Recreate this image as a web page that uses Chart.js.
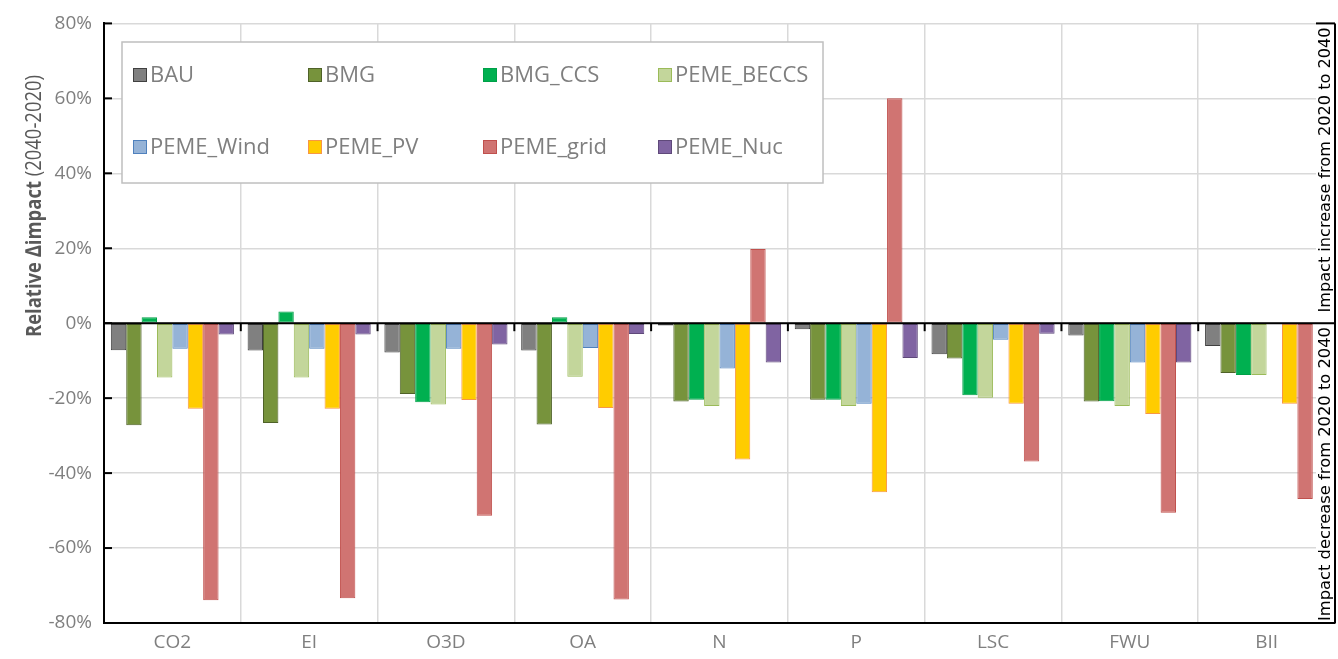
<!DOCTYPE html>
<html>
<head>
<meta charset="utf-8">
<script src="https://cdn.jsdelivr.net/npm/chart.js@4.4.0/dist/chart.umd.min.js"></script>
<style>
  html, body { margin: 0; padding: 0; background: #fff; }
  #wrap { width: 1338px; height: 659px; }
</style>
</head>
<body>
<div id="wrap"><canvas id="impactChart" width="1338" height="659"></canvas></div>
<script>
// categories (impact indicators)
const categories = ['CO2', 'EI', 'O3D', 'OA', 'N', 'P', 'LSC', 'FWU', 'BII'];

// relative change 2040 vs 2020, in %
const bau       = [-7.2, -7.3, -7.8, -7.3, -0.6, -1.6, -8.3, -3.3, -6.1];
const bmg       = [-27.2, -26.6, -18.9, -27.0, -20.9, -20.4, -9.4, -20.9, -13.3];
const bmgCcs    = [1.6, 3.1, -21.1, 1.6, -20.4, -20.4, -19.2, -20.8, -13.8];
const pemeBeccs = [-14.5, -14.5, -21.7, -14.3, -22.1, -22.1, -19.9, -22.1, -13.8];
const pemeWind  = [-6.8, -6.8, -6.8, -6.6, -12.1, -21.5, -4.4, -10.5, null];
const pemePv    = [-22.8, -22.8, -20.5, -22.6, -36.4, -45.1, -21.5, -24.2, -21.5];
const pemeGrid  = [-73.9, -73.4, -51.4, -73.7, 19.8, 60, -36.9, -50.6, -46.9];
const pemeNuc   = [-3.0, -3.0, -5.7, -2.9, -10.5, -9.3, -2.8, -10.5, null];

const yTicks = [-80, -60, -40, -20, 0, 20, 40, 60, 80];

const series = [
    { label: 'BAU',        data: bau,       fill: '#808080', line: '#404040' },
    { label: 'BMG',        data: bmg,       fill: '#77933c', line: '#4f6228' },
    { label: 'BMG_CCS',    data: bmgCcs,    fill: '#00b050', line: '#00a048' },
    { label: 'PEME_BECCS', data: pemeBeccs, fill: '#c3d69b', line: '#9bbb59' },
    { label: 'PEME_Wind',  data: pemeWind,  fill: '#95b3d7', line: '#4f81bd' },
    { label: 'PEME_PV',    data: pemePv,    fill: '#ffcc00', line: '#f79646' },
    { label: 'PEME_grid',  data: pemeGrid,  fill: '#d07472', line: '#c0504d' },
    { label: 'PEME_Nuc',   data: pemeNuc,   fill: '#8064a2', line: '#5f497a' }
];

const FONT = '"Open Sans", sans-serif';

// vertical text, fitted to a given length
function verticalText(ctx, text, cx, cy, len) {
    const w = ctx.measureText(text).width;
    ctx.save();
    ctx.translate(cx, cy);
    ctx.rotate(-Math.PI / 2);
    ctx.scale(len / w, 1);
    ctx.fillText(text, 0, 0);
    ctx.restore();
}

// extra drawing: zero line, inner ticks, right notes, legend box, y title
const decorations = {
    id: 'decorations',
    afterDatasetsDraw(chart) {
        const { ctx, chartArea: area, scales: { x, y } } = chart;
        const y0 = y.getPixelForValue(0);
        ctx.save();

        // right side note boxes
        ctx.fillStyle = '#fff';
        ctx.fillRect(area.right - 19, area.top + 1, 18, y0 - area.top - 2);
        ctx.fillRect(area.right - 19, y0 + 1, 18, area.bottom - y0 - 2);

        ctx.strokeStyle = '#000';
        ctx.lineWidth = 2;
        // zero line
        ctx.beginPath();
        ctx.moveTo(area.left, y0);
        ctx.lineTo(area.right, y0);
        ctx.stroke();
        // right border
        ctx.beginPath();
        ctx.moveTo(area.right, area.top);
        ctx.lineTo(area.right, area.bottom);
        ctx.stroke();
        // top edge above the notes
        ctx.beginPath();
        ctx.moveTo(area.right - 19, area.top);
        ctx.lineTo(area.right, area.top);
        ctx.stroke();
        // category ticks below the zero line
        for (let i = 1; i < categories.length; i++) {
            const bx = (x.getPixelForValue(i - 1) + x.getPixelForValue(i)) / 2;
            ctx.beginPath();
            ctx.moveTo(bx, y0);
            ctx.lineTo(bx, y0 + 8);
            ctx.stroke();
        }
        // value ticks inside the plot
        yTicks.forEach(v => {
            const ty = y.getPixelForValue(v);
            ctx.beginPath();
            ctx.moveTo(area.left, ty);
            ctx.lineTo(area.left + 8, ty);
            ctx.stroke();
        });

        // notes
        ctx.fillStyle = '#000';
        ctx.font = '15px "DejaVu Sans", Verdana, sans-serif';
        ctx.textAlign = 'center';
        ctx.textBaseline = 'middle';
        const nx = area.right - 9;
        verticalText(ctx, 'Impact increase from 2020 to 2040', nx, 170, 285);
        verticalText(ctx, 'Impact decrease from 2020 to 2040', nx, 474, 294);

        // legend box
        const lx = 122, ly = 42, lw = 701, lh = 141;
        ctx.fillStyle = '#fff';
        ctx.fillRect(lx, ly, lw, lh);
        ctx.strokeStyle = '#bfbfbf';
        ctx.lineWidth = 1.5;
        ctx.strokeRect(lx, ly, lw, lh);
        ctx.font = '22px ' + FONT;
        ctx.textAlign = 'left';
        series.forEach((s, i) => {
            const col = i % 4, row = Math.floor(i / 4);
            const sx = 133 + col * 175, sy = 75 + row * 72;
            ctx.fillStyle = s.fill;
            ctx.fillRect(sx, sy - 7, 14, 14);
            ctx.strokeStyle = s.line;
            ctx.lineWidth = 1;
            ctx.strokeRect(sx + 0.5, sy - 6.5, 13, 13);
            ctx.fillStyle = '#7f7f7f';
            ctx.fillText(s.label, sx + 17, sy + 1);
        });

        // y axis title (squeezed to the narrow original typeface width)
        const part1 = 'Relative \u2206impact ';
        const part2 = '(2040-2020)';
        ctx.font = 'bold 22px ' + FONT;
        const w1 = ctx.measureText(part1).width;
        ctx.font = '22px ' + FONT;
        const w2 = ctx.measureText(part2).width;
        const squeeze = 262 / (w1 + w2);
        ctx.save();
        ctx.translate(35, 206);
        ctx.rotate(-Math.PI / 2);
        ctx.scale(squeeze, 1);
        ctx.textAlign = 'left';
        ctx.fillStyle = '#595959';
        const start = -(w1 + w2) / 2;
        ctx.font = 'bold 22px ' + FONT;
        ctx.fillText(part1, start, 0);
        ctx.font = '22px ' + FONT;
        ctx.fillText(part2, start + w1, 0);
        ctx.restore();

        ctx.restore();
    }
};

const config = {
    type: 'bar',
    data: {
        labels: categories,
        datasets: series.map(s => ({
            label: s.label,
            data: s.data,
            backgroundColor: s.fill,
            borderColor: s.line,
            borderWidth: 1,
            borderSkipped: false,
            categoryPercentage: 0.9,
            barPercentage: 1.0
        }))
    },
    options: {
        responsive: false,
        animation: false,
        layout: { padding: { top: 23, right: 3, bottom: 0, left: 0 } },
        plugins: {
            legend: { display: false },
            tooltip: { enabled: false }
        },
        scales: {
            x: {
                grid: { color: '#d9d9d9', lineWidth: 1.5, drawTicks: false, offset: true },
                border: { color: '#000', width: 2 },
                ticks: { color: '#7f7f7f', font: { family: FONT, size: 19 }, padding: 8 },
                afterFit: scale => { scale.height = 36; }
            },
            y: {
                min: -80,
                max: 80,
                afterBuildTicks: scale => { scale.ticks = yTicks.map(v => ({ value: v })); },
                grid: { color: '#d9d9d9', lineWidth: 1.5, drawTicks: false },
                border: { color: '#000', width: 2 },
                ticks: {
                    color: '#7f7f7f',
                    font: { family: FONT, size: 19 },
                    padding: 12,
                    callback: v => v + '%'
                },
                afterFit: scale => { scale.width = 104; }
            }
        }
    },
    plugins: [decorations]
};

const ctx = document.getElementById('impactChart').getContext('2d');
const impactChart = new Chart(ctx, config);
</script>
</body>
</html>
